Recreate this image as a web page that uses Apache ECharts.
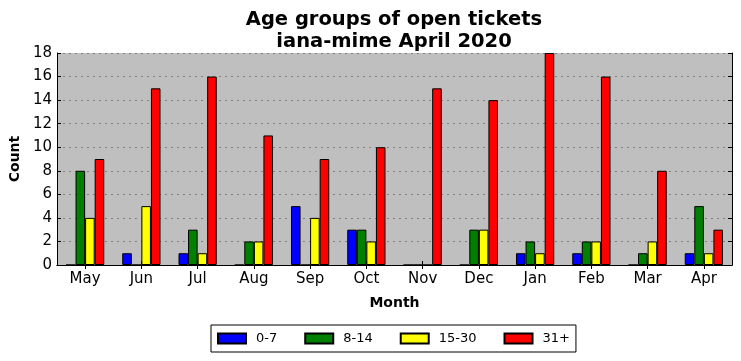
<!DOCTYPE html>
<html><head><meta charset="utf-8">
<script src="https://cdn.jsdelivr.net/npm/echarts@6/dist/echarts.min.js"></script>
<style>html,body{margin:0;padding:0;background:#fff}#c{width:741px;height:361px}</style>
</head><body><div id="c"></div>
<script>
const months = ['May','Jun','Jul','Aug','Sep','Oct','Nov','Dec','Jan','Feb','Mar','Apr'];
const s0_7   = [0,1,1,0,5,3,0,0,1,1,0,1];
const s8_14  = [8,0,3,2,0,3,0,3,2,2,1,5];
const s15_30 = [4,5,1,2,4,2,0,3,1,2,2,1];
const s31    = [9,15,16,11,9,10,15,14,18,16,8,3];
const seriesNames = ['0-7','8-14','15-30','31+'];
const seriesColors = ['#0000ff','#008000','#ffff00','#ff0000'];
const seriesData = [s0_7, s8_14, s15_30, s31];

const font = 'DejaVu Sans';
const chart = echarts.init(document.getElementById('c'), null, {renderer:'canvas'});
const baseX = {
  type:'category', data: months, boundaryGap:true,
  axisLine:{show:true, lineStyle:{color:'#000', width:1}},
  axisTick:{show:true, inside:true, alignWithLabel:true, length:4, lineStyle:{color:'#000'}},
  splitLine:{show:false}
};
const baseY = {
  type:'value', min:0, max:18, interval:2,
  axisLine:{show:true, lineStyle:{color:'#000', width:1}},
  axisTick:{show:true, inside:true, length:4, lineStyle:{color:'#000'}}
};
chart.setOption({
  animation:false,
  backgroundColor:'#fff',
  textStyle:{fontFamily:font},
  title:{
    text:'Age groups of open tickets\niana-mime April 2020',
    left:389, top:4, textAlign:'center',
    textStyle:{fontFamily:font, fontSize:19.5, fontWeight:'bold', color:'#000', lineHeight:22}
  },
  legend:{
    data: seriesNames, top:325, left:211,
    icon:'rect', itemWidth:28, itemHeight:10, itemGap:27,
    borderColor:'#000', borderWidth:1, backgroundColor:'#fff',
    padding:[7,6,7,6],
    textStyle:{fontFamily:font, fontSize:13, color:'#000', padding:[0,0,0,5]}
  },
  grid:{left:56, right:9, top:53, bottom:96, containLabel:false,
        show:true, backgroundColor:'#bfbfbf', borderWidth:0},
  xAxis:[
    Object.assign({}, baseX, {
      position:'bottom',
      name:'Month', nameLocation:'middle', nameGap:31,
      nameTextStyle:{fontFamily:font, fontSize:14, fontWeight:'bold', color:'#000'},
      axisLabel:{fontFamily:font, fontSize:15, color:'#000', margin:7}
    }),
    Object.assign({}, baseX, {position:'top', axisLabel:{show:false}})
  ],
  yAxis:[
    Object.assign({}, baseY, {
      position:'left',
      name:'Count', nameLocation:'middle', nameGap:32,
      nameTextStyle:{fontFamily:font, fontSize:14, fontWeight:'bold', color:'#000'},
      axisLabel:{fontFamily:font, fontSize:15, color:'#000', margin:5},
      splitLine:{show:true, lineStyle:{color:'#808080', type:[2,4], width:1}}
    }),
    Object.assign({}, baseY, {position:'right', axisLabel:{show:false}, splitLine:{show:false}})
  ],
  series: seriesNames.map((n,i)=>({
    name:n, type:'bar', data:seriesData[i], xAxisIndex:0, yAxisIndex:0,
    barWidth:'17%', barGap:'0%',
    itemStyle:{color:seriesColors[i], borderColor:'#000', borderWidth:1}
  }))
});
</script></body></html>
